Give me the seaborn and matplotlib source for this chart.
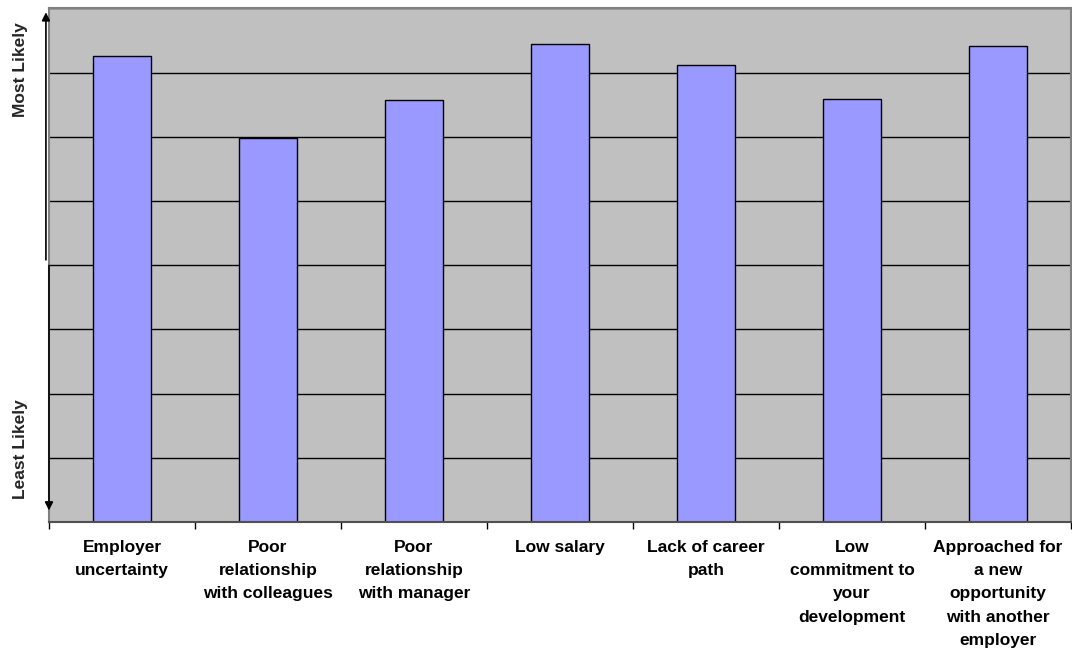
import seaborn as sns
import matplotlib.pyplot as plt
import numpy as np
import pandas as pd

sns.set_theme(style='white')
plt.rcParams['font.family'] = ['Liberation Sans', 'DejaVu Sans']

# reasons and how likely each one is (scale 0-8)
reasons = ["Employer\nuncertainty",
           "Poor\nrelationship\nwith colleagues",
           "Poor\nrelationship\nwith manager",
           "Low salary",
           "Lack of career\npath",
           "Low\ncommitment to\nyour\ndevelopment",
           "Approached for\na new\nopportunity\nwith another\nemployer"]
scores = [7.26, 5.98, 6.58, 7.45, 7.12, 6.59, 7.41]

df = pd.DataFrame({"reason": reasons, "score": scores})

fig = plt.figure(figsize=(10.72, 6.52), dpi=100)
ax = fig.add_axes([0.0457, 0.1994, 0.9533, 0.7876])
ax.set_facecolor('#C0C0C0')

# gridlines first so the bars sit on top
ax.set_axisbelow(True)
ax.set_yticks(np.arange(0, 9, 1))
ax.yaxis.grid(True, color='black', linewidth=1)

sns.barplot(data=df, x="reason", y="score", color='#9999FF', saturation=1,
            width=0.4, edgecolor='black', linewidth=1, ax=ax)

ax.set_ylim(0, 8)
ax.set_xlim(-0.5, len(reasons) - 0.5)
ax.set_yticklabels([])
ax.tick_params(axis='y', length=0)
ax.set_xlabel('')
ax.set_ylabel('')

# labels under the bars, ticks between categories
ax.tick_params(axis='x', which='major', length=0, pad=13)
for lab in ax.get_xticklabels():
    lab.set_fontweight('bold')
    lab.set_fontsize(12.5)
    lab.set_color('black')
    lab.set_linespacing(1.68)
    lab.set_verticalalignment('top')
ax.set_xticks(np.arange(-0.5, len(reasons), 1), minor=True)
ax.tick_params(axis='x', which='minor', length=5, width=1, color='black',
               direction='out', bottom=True)

for side in ['top', 'right', 'left']:
    ax.spines[side].set_color('#808080')
    ax.spines[side].set_linewidth(1.5)
ax.spines['bottom'].set_color('#505050')
ax.spines['bottom'].set_linewidth(1.5)

# likelihood arrows on the y axis
ax.annotate('', xy=(-0.003, 0.998), xytext=(-0.003, 0.505), xycoords='axes fraction',
            arrowprops=dict(arrowstyle='-|>', color='black', lw=1.2, mutation_scale=12),
            annotation_clip=False)
ax.annotate('', xy=(0.0, 0.017), xytext=(0.0, 0.505), xycoords='axes fraction',
            arrowprops=dict(arrowstyle='-|>', color='black', lw=1.2, mutation_scale=12),
            annotation_clip=False)

fig.text(0.0195, 1 - 70 / 652, 'Most Likely', rotation=90, ha='center', va='center',
         fontsize=12.5, fontweight='bold')
fig.text(0.0195, 1 - 449 / 652, 'Least Likely', rotation=90, ha='center', va='center',
         fontsize=12.5, fontweight='bold')

plt.savefig("out.png", dpi=100)
